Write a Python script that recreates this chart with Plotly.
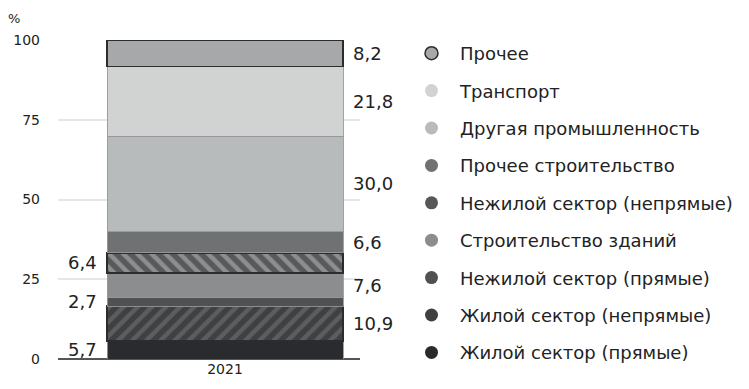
import plotly.graph_objects as go

# Emission shares by sector, 2021 (%), listed from the bottom of the stack upward
categories = ["2021"]
sectors = [
    "Жилой сектор (прямые)",
    "Жилой сектор (непрямые)",
    "Нежилой сектор (прямые)",
    "Строительство зданий",
    "Нежилой сектор (непрямые)",
    "Прочее строительство",
    "Другая промышленность",
    "Транспорт",
    "Прочее",
]
values = [5.7, 10.9, 2.7, 7.6, 6.4, 6.6, 30.0, 21.8, 8.2]
label_side = ["left", "right", "left", "right", "left", "right", "right", "right", "right"]
y_ticks = [0, 25, 50, 75, 100]

fills = ["#2a2b2e", "#5b5d5f", "#4f5153", "#8b8d8f", "#8c8e90",
         "#6f7173", "#b8bbbc", "#d1d2d2", "#a6a8a9"]
hatches = ["", "/", "", "", "\\", "", "", "", ""]
outlined = [False, True, False, False, True, False, False, False, True]
legend_dots = ["#2a2b2e", "#3e4042", "#4f5153", "#8b8d8f", "#55575a",
               "#6f7173", "#b8bbbc", "#d1d2d2", "#a6a8a9"]

FONT = "'DejaVu Sans', sans-serif"
INK = "#222222"
DARK = "#2b2c2e"

fig = go.Figure()

# stacked segments
for i, (name, val) in enumerate(zip(sectors, values)):
    pattern = dict(shape=hatches[i], fgcolor="#232426", bgcolor=fills[i],
                   size=10, solidity=0.55) if hatches[i] else dict(shape="")
    fig.add_trace(go.Bar(
        x=[0], y=[val], width=1, name=name, showlegend=False,
        marker=dict(
            color=fills[i],
            pattern=pattern,
            line=dict(color=DARK if outlined[i] else "rgba(150,152,154,0.9)",
                      width=1.5 if outlined[i] else 1),
        ),
        hoverinfo="name+y",
    ))

# legend entries drawn as round dots, top entry first
for i in reversed(range(len(sectors))):
    name = sectors[i]
    fig.add_trace(go.Scatter(
        x=[None], y=[None], mode="markers", name=name, legendgroup=name,
        marker=dict(symbol="circle", size=13, color=legend_dots[i],
                    line=dict(color=DARK if name == "Прочее" else legend_dots[i],
                              width=1.5 if name == "Прочее" else 0)),
    ))

# value labels beside each segment
base = 0.0
for val, side in zip(values, label_side):
    mid = base + val / 2
    base += val
    fig.add_annotation(
        x=0.5 if side == "right" else -0.5, y=mid, xref="x", yref="y",
        text=f"{val:.1f}".replace(".", ","), showarrow=False,
        xanchor="left" if side == "right" else "right", yanchor="middle",
        xshift=8 if side == "right" else -8,
        font=dict(family=FONT, size=18, color=INK),
    )

# "%" unit label above the value axis
fig.add_annotation(xref="paper", yref="paper", x=-44 / 302, y=1 + 22 / 325,
                   xanchor="center", yanchor="middle", text="%",
                   showarrow=False, font=dict(family=FONT, size=13, color=INK))

legend = dict(
    xref="container", yref="container",
    x=403 / 749, y=1 - 35 / 389, xanchor="left", yanchor="top",
    traceorder="grouped", tracegroupgap=11, itemwidth=47,
    font=dict(family=FONT, size=18, color=INK),
    bgcolor="rgba(0,0,0,0)", itemclick=False,
)

fig.update_layout(
    width=749, height=389,
    margin=dict(l=58, r=389, t=40, b=24),
    barmode="stack",
    plot_bgcolor="white", paper_bgcolor="white",
    font=dict(family=FONT, size=14, color=INK),
    xaxis=dict(
        range=[-0.5 - 49 / 236, 0.5 + 17 / 236],
        tickvals=[0], ticktext=categories,
        showgrid=False, zeroline=False,
        showline=False, ticks="",
        tickfont=dict(family=FONT, size=14, color=INK),
        fixedrange=True,
    ),
    yaxis=dict(
        range=[0, 100], tickvals=y_ticks,
        showgrid=True, gridcolor="#e6e6e6", gridwidth=1.5,
        zeroline=True, zerolinecolor="#555555", zerolinewidth=1.5,
        showline=False, ticks="", ticklabelstandoff=17,
        tickfont=dict(family=FONT, size=14, color=INK),
        fixedrange=True,
    ),
    showlegend=True,
)

try:
    fig.update_layout(legend=dict(legend, maxheight=1))
except ValueError:
    fig.update_layout(legend=legend)

fig.write_html("out.html")
